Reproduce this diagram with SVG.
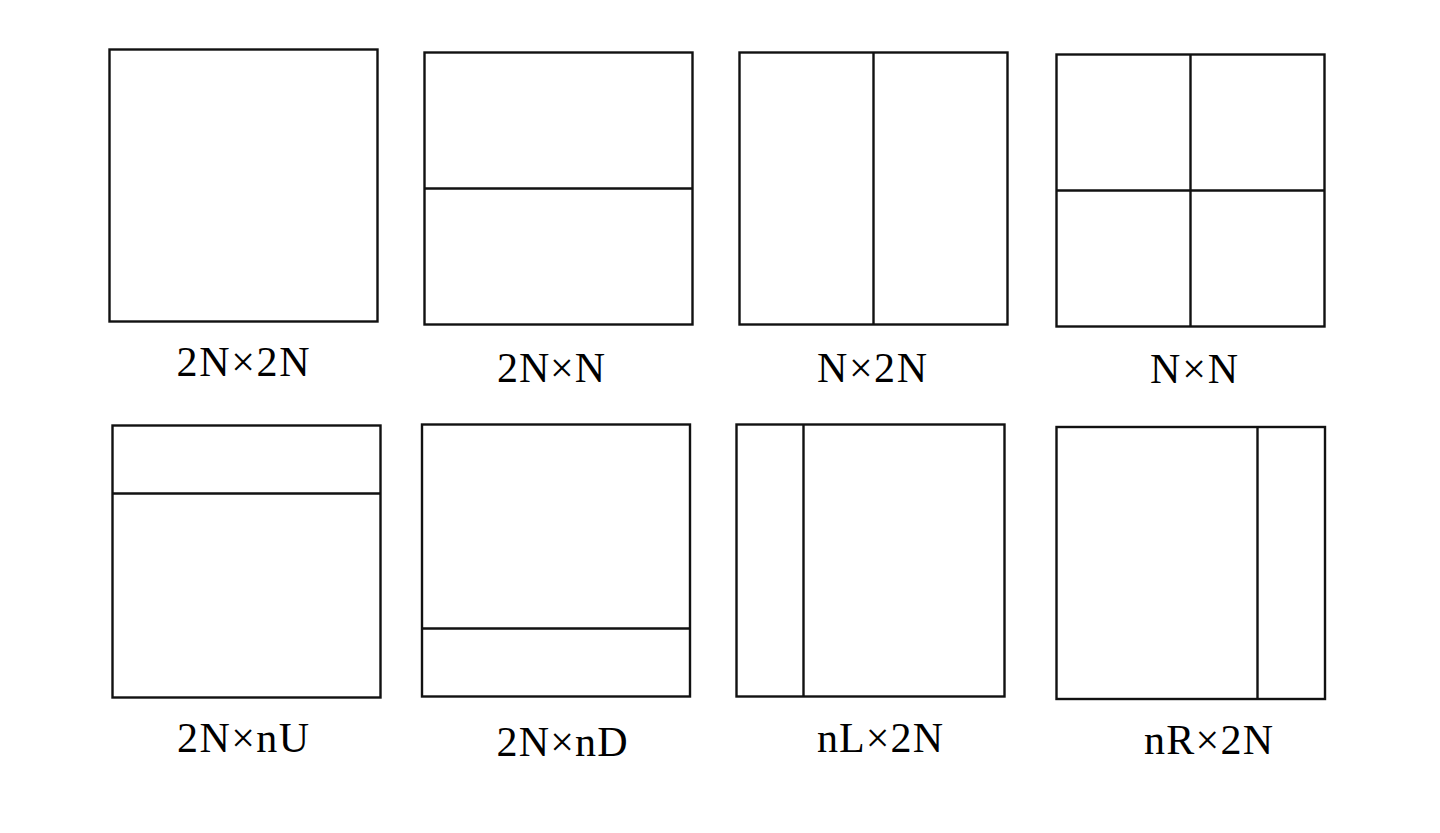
<svg xmlns="http://www.w3.org/2000/svg" width="1440" height="833" viewBox="0 0 1440 833">
<style>
.box{fill:#fff;stroke:#111;stroke-width:2.4}
.div{stroke:#111;stroke-width:2.4;fill:none}
.lbl{font-family:"Liberation Serif","Times New Roman",serif;font-size:42px;fill:#000;text-anchor:middle}
</style>
<rect width="1440" height="833" fill="#fff"/>
<g id="n-2Nx2N">
<rect class="box" x="109.5" y="49.5" width="268" height="272"/>
<text class="lbl" x="243" y="376" textLength="133" lengthAdjust="spacing">2N×2N</text>
</g>
<g id="n-2NxN">
<rect class="box" x="424.5" y="52.5" width="268" height="272"/>
<line class="div" x1="424.5" y1="188.5" x2="692.5" y2="188.5"/>
<text class="lbl" x="551" y="382" textLength="108" lengthAdjust="spacing">2N×N</text>
</g>
<g id="n-Nx2N">
<rect class="box" x="739.5" y="52.5" width="268" height="272"/>
<line class="div" x1="873.5" y1="52.5" x2="873.5" y2="324.5"/>
<text class="lbl" x="872" y="382" textLength="110" lengthAdjust="spacing">N×2N</text>
</g>
<g id="n-NxN">
<rect class="box" x="1056.5" y="54.5" width="268" height="272"/>
<line class="div" x1="1190.5" y1="54.5" x2="1190.5" y2="326.5"/>
<line class="div" x1="1056.5" y1="190.5" x2="1324.5" y2="190.5"/>
<text class="lbl" x="1194" y="383" textLength="88" lengthAdjust="spacing">N×N</text>
</g>
<g id="n-2NxnU">
<rect class="box" x="112.5" y="425.5" width="268" height="272"/>
<line class="div" x1="112.5" y1="493.5" x2="380.5" y2="493.5"/>
<text class="lbl" x="243" y="752" textLength="132" lengthAdjust="spacing">2N×nU</text>
</g>
<g id="n-2NxnD">
<rect class="box" x="422" y="424.5" width="268" height="272"/>
<line class="div" x1="422" y1="628.5" x2="690" y2="628.5"/>
<text class="lbl" x="562" y="756" textLength="131" lengthAdjust="spacing">2N×nD</text>
</g>
<g id="n-nLx2N">
<rect class="box" x="736.5" y="424.5" width="268" height="272"/>
<line class="div" x1="803.5" y1="424.5" x2="803.5" y2="696.5"/>
<text class="lbl" x="880" y="752" textLength="126" lengthAdjust="spacing">nL×2N</text>
</g>
<g id="n-nRx2N">
<rect class="box" x="1056.5" y="427" width="268.5" height="272"/>
<line class="div" x1="1257.5" y1="427" x2="1257.5" y2="699"/>
<text class="lbl" x="1208.5" y="754" textLength="129" lengthAdjust="spacing">nR×2N</text>
</g>
<g id="connectors"/>
</svg>
